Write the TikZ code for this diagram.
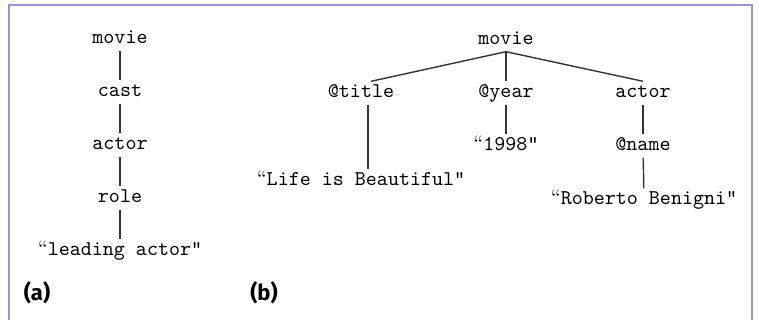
\documentclass[tikz,border=0pt]{standalone}
\usepackage{fontspec}
\newfontfamily\tagfont{Fira Sans}
\usetikzlibrary{calc}
\definecolor{framecol}{HTML}{9A92CC}
\newcommand{\oq}{{\rmfamily “}}

\begin{document}
\begin{tikzpicture}[x=0.5pt,y=-0.5pt,
  lbl/.style={font=\ttfamily\fontsize{10.5}{12}\selectfont, text height=6.5pt, text depth=1.8pt, inner sep=1.5pt},
  tag/.style={font=\tagfont\bfseries\fontsize{11}{13}\selectfont, inner sep=0pt},
  link/.style={line width=0.7pt, draw=black!80}]
\useasboundingbox (0,0) rectangle (759,320);

% frame, open at the bottom
\draw[framecol, line width=1pt] (9,320) -- (9,5) -- (752,5) -- (752,320);

% tree (a): one chain, read top to bottom
\foreach \name [count=\i from 0] in {movie,cast,actor,role,\oq leading actor"}
{
\pgfmathsetmacro{\yy}{39+\i*53}
\node[lbl] (a\i) at (120,\yy) {\name};
}
\foreach \i [evaluate=\i as \j using int(\i+1)] in {0,...,3}
\draw[link] (a\i) -- (a\j);

% tree (b)
\node[lbl] (bmovie) at (506,40) {movie};
\node[lbl] (btitle) at (361,93) {@title};
\node[lbl] (byear) at (506,93) {@year};
\node[lbl] (bactor) at (643,93) {actor};
\node[lbl] (byearval) at (506,146) {\oq 1998"};
\node[lbl] (bname) at (643,146) {@name};
\node[lbl] (btitleval) at (361,181) {\oq Life is Beautiful"};
\node[lbl] (bnameval) at (644,200) {\oq Roberto Benigni"};

\draw[link] (bmovie.south) -- ($(btitle.north)+(10,0)$);
\draw[link] (bmovie.south) -- (byear.north);
\draw[link] (bmovie.south) -- (bactor.north);
\draw[link] ($(btitle.south)+(7,0)$) -- ($(btitleval.north)+(7,0)$);
\draw[link] (byear) -- (byearval);
\draw[link] (bactor) -- (bname);
\draw[link] (bname) -- (bnameval);

% panel tags
\node[tag] (taga) at (37,293) {(a)};
\node[tag] (tagb) at (264,293) {(b)};

\end{tikzpicture}
\end{document}
